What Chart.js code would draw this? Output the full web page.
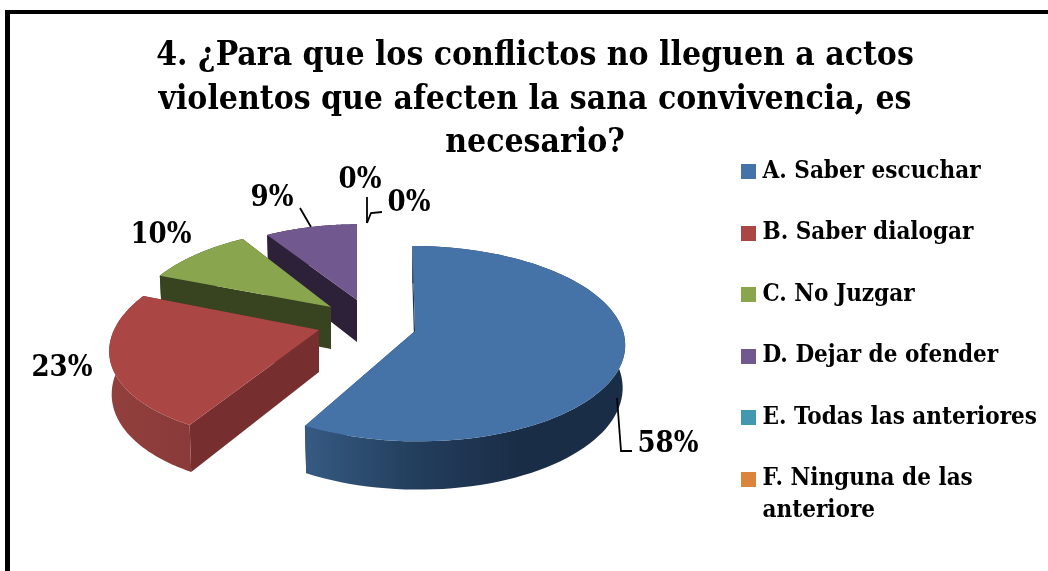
<!DOCTYPE html>
<html><head><meta charset="utf-8">
<style>html,body{margin:0;padding:0;background:#fff}canvas{display:block}</style>
<script src="https://cdn.jsdelivr.net/npm/chart.js@4"></script>
</head><body><div style="width:1048px;height:571px"><canvas id="c" width="1048" height="571"></canvas></div>
<script>
const categories=['A. Saber escuchar','B. Saber dialogar','C. No Juzgar','D. Dejar de ofender','E. Todas las anteriores',['F. Ninguna de las','anteriore']];
const percentValues=[58,23,10,9,0,0];
const sliceColors=['#4572a7','#aa4643','#89a54e','#71588f','#4198af','#db843d'];
const wallStops=[['#1a2d47','#1a2d47','#233f5e','#365a82'],['#8a3b39','#8c3c3a','#8f3e3c','#92403e'],['#38431f','#38431f','#38431f','#38431f'],['#2c2138','#2c2138','#2c2138','#2c2138']];
const faceColors=['#1c3550','#762f2e','#38431f','#2c2138'];
const FONT='"DejaVu Serif Condensed","Liberation Serif"';
const wedge=[
 {ax:415,ay:331,rx:208,ry:96,v:3,p:.13},
 {ax:319,ay:330,rx:205,ry:96.6,v:-19,p:.123},
 {ax:331,ay:307,rx:196,ry:89,v:-9,p:.123},
 {ax:357,ay:300,rx:185,ry:85,v:0,p:.123}];
const DEPTH=42;
const dataLabels=[
 {t:'58%',x:668,y:444},{t:'23%',x:62,y:368},{t:'10%',x:161,y:235},{t:'9%',x:272,y:198},{t:'0%',x:360,y:180},{t:'0%',x:409,y:203}];
const leaders=[[[617,398],[621,451],[632,451]],[[300,208],[311,227]],[[367,197],[367,223]],[[382,212],[371,213],[367,223]]];

function proj(w,th,r,z){
 const s=Math.sin(th)*r,y=-Math.cos(th)*r,d=1-w.p*y;
 const k=z?0.988:1;
 return [w.ax+k*(w.rx*s+w.v*y)/d,w.ay+(w.ry*y+z*DEPTH)/d];
}
function poly(ctx,pts){ctx.beginPath();pts.forEach((p,i)=>i?ctx.lineTo(p[0],p[1]):ctx.moveTo(p[0],p[1]));ctx.closePath();}
const wedgePlugin={id:'wedge3d',
 beforeDatasetDraw(chart,args){
  const ctx=chart.ctx,meta=args.meta;
  for(let i=3;i>=0;i--){
   const el=meta.data[i],w=wedge[i];
   const a=el.startAngle+Math.PI/2,b=el.endAngle+Math.PI/2,n=90;
   const arc=(z)=>{const o=[];for(let j=0;j<=n;j++)o.push(proj(w,a+(b-a)*j/n,1,z));return o;};
   const top=arc(0),bot=arc(1),apexT=proj(w,0,0,0),apexB=proj(w,0,0,1);
   ctx.save();
   ctx.fillStyle=faceColors[i];
   poly(ctx,[apexT,top[0],bot[0],apexB]);ctx.fill();
   poly(ctx,[apexT,top[n],bot[n],apexB]);ctx.fill();
   const xs=top.map(p=>p[0]),x0=Math.min(...xs),x1=Math.max(...xs);
   const g=ctx.createLinearGradient(x1,0,x0,0);
   wallStops[i].forEach((c,k)=>g.addColorStop(k/(wallStops[i].length-1),c));
   ctx.fillStyle=g;
   poly(ctx,top.concat(bot.slice().reverse()));ctx.fill();
   ctx.fillStyle=sliceColors[i];
   poly(ctx,[apexT].concat(top));ctx.fill();
   ctx.restore();
  }
  return false;
 }};
const framePlugin={id:'frame',
 beforeDraw(chart){const c=chart.ctx;c.save();c.fillStyle='#fff';c.fillRect(0,0,1048,571);c.fillStyle='#000';
  c.fillRect(5,10,5,561);c.fillRect(5,10,1043,4);c.restore();},
 afterDatasetsDraw(chart){
  const c=chart.ctx;c.save();
  c.strokeStyle='#000';c.lineWidth=1.8;
  leaders.forEach(l=>{c.beginPath();l.forEach((p,i)=>i?c.lineTo(p[0],p[1]):c.moveTo(p[0],p[1]));c.stroke();});
  c.fillStyle='#000';c.font='bold 29px '+FONT;c.textAlign='center';c.textBaseline='middle';
  dataLabels.forEach(d=>c.fillText(d.t,d.x,d.y));
  c.restore();
 },
 afterLayout(chart){
  const t=chart.titleBlock;t.left=0;t.right=1070;t.width=1070;t.top=35;t.bottom=t.top+t.height;
  const l=chart.legend,pad=l.options.labels.padding,itemH=24;
  l.left=746.5-pad;l.right=1048;l.top=171.5-itemH/2-pad;l.bottom=560;l.width=l.right-l.left;
  l.adjustHitBoxes&&l.adjustHitBoxes();
 }};
function swatch(col){const s=document.createElement('canvas');s.width=15;s.height=15;const x=s.getContext('2d');x.fillStyle=col;x.fillRect(0,0,15,15);return s;}
new Chart(document.getElementById('c'),{
 type:'pie',
 plugins:[framePlugin,wedgePlugin],
 data:{labels:categories,datasets:[{data:percentValues,backgroundColor:sliceColors,borderWidth:0}]},
 options:{responsive:false,animation:false,devicePixelRatio:1,
  plugins:{tooltip:{enabled:false},
   title:{display:true,position:'top',color:'#000',padding:0,
    text:['4. ¿Para que los conflictos no lleguen a actos','violentos que afecten la sana convivencia, es','necesario?'],
    font:{family:FONT,size:33.4,weight:'bold',lineHeight:43.5/33.4},align:'center',fullSize:false},
   legend:{display:true,position:'right',align:'start',
    labels:{color:'#000',font:{family:FONT,size:24,weight:'bold',lineHeight:32/24},padding:37.5,usePointStyle:true,pointStyleWidth:4,boxHeight:15,
     generateLabels(chart){return chart.data.labels.map((t,i)=>({text:t,fillStyle:sliceColors[i],strokeStyle:sliceColors[i],lineWidth:0,pointStyle:swatch(sliceColors[i]),index:i,hidden:false,fontColor:'#000'}));}}}
  }}
});
</script></body></html>
